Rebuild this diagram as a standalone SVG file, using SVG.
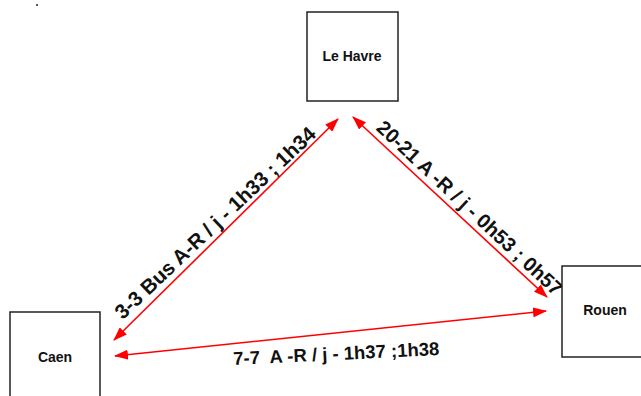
<svg xmlns="http://www.w3.org/2000/svg" width="641" height="396" viewBox="0 0 641 396">
  <defs>
    <style>
      .box { fill: #ffffff; stroke: #222222; stroke-width: 1.5; }
      .name { font-family: "Liberation Sans", Arial, sans-serif; font-weight: bold; font-size: 14px; fill: #111111; text-anchor: middle; }
      .link { stroke: #ff0000; stroke-width: 1.6; fill: none; marker-start: url(#head); marker-end: url(#head); }
      .lbl { font-family: "Liberation Sans", Arial, sans-serif; font-weight: bold; fill: #111111; text-anchor: middle; white-space: pre; }
    </style>
    <marker id="head" viewBox="0 0 14 10" refX="13" refY="5" markerWidth="14" markerHeight="10" markerUnits="userSpaceOnUse" orient="auto-start-reverse">
      <path d="M0,0 L14,5 L0,10 z" fill="#ff0000"/>
    </marker>
  </defs>
  <rect width="641" height="396" fill="#ffffff"/>
  <rect x="36" y="4" width="2" height="2" fill="#555555"/>

  <g id="connectors">
    <line class="link" x1="114" y1="340" x2="338" y2="119"/>
    <line class="link" x1="353" y1="117" x2="547" y2="297"/>
    <line class="link" x1="115" y1="356" x2="546" y2="311"/>
    <text class="lbl" font-size="20.5" transform="translate(220,228) rotate(-43.5)">3-3 Bus A-R / j - 1h33 ; 1h34</text>
    <text class="lbl" font-size="20" transform="translate(465,213) rotate(43)">20-21 A -R / j - 0h53 ; 0h57</text>
    <text class="lbl" font-size="18.5" transform="translate(336.5,360) rotate(-2.8)" xml:space="preserve">7-7  A -R / j - 1h37 ;1h38</text>
  </g>

  <g id="le-havre">
    <rect class="box" x="307" y="12" width="91" height="89"/>
    <text class="name" x="352" y="61">Le Havre</text>
  </g>
  <g id="caen">
    <rect class="box" x="10" y="312" width="90" height="100"/>
    <text class="name" x="55" y="362">Caen</text>
  </g>
  <g id="rouen">
    <rect class="box" x="562" y="266" width="100" height="91"/>
    <text class="name" x="605" y="315">Rouen</text>
  </g>
</svg>
